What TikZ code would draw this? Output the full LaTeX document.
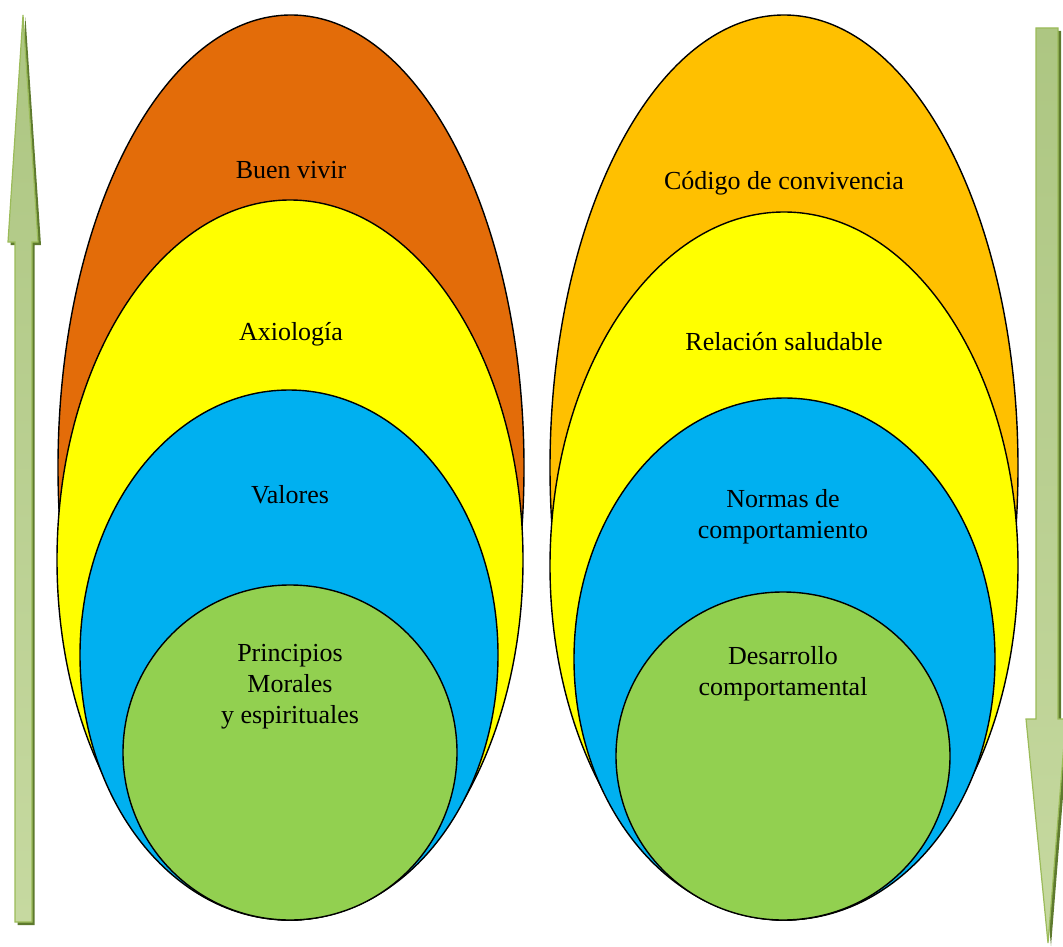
\documentclass[tikz,border=0pt]{standalone}
\usepackage{fontspec}
\setmainfont{Liberation Serif}
\usetikzlibrary{shapes.geometric}

\definecolor{Naranja}{HTML}{E36C09}
\definecolor{Oro}{HTML}{FFC000}
\definecolor{Amarillo}{HTML}{FFFF00}
\definecolor{Celeste}{HTML}{00B0F0}
\definecolor{Verde}{HTML}{92D050}
\definecolor{FlechaBorde}{HTML}{9BBB59}
\definecolor{FlechaSombra}{HTML}{5E7A2E}
\definecolor{FlechaA}{HTML}{ADC682}
\definecolor{FlechaB}{HTML}{C6D9A0}

\tikzset{
  capa/.style={ellipse, draw=black, line width=1.4pt, inner sep=0pt},
  texto/.style={font=\fontsize{26}{31}\selectfont, align=center, inner sep=0pt},
}

\begin{document}
\begin{tikzpicture}[x=1pt,y=-1pt]
\useasboundingbox (0,0) rectangle (1063,947);

%% Flecha izquierda (hacia arriba)
\fill[FlechaSombra] (25.5,17.5) -- (41,245) -- (34.5,245) -- (34.5,925)
	-- (17.5,925) -- (17.5,245) -- (10.5,245) -- cycle;
\path[draw=FlechaBorde, line width=1.2pt, top color=FlechaA, bottom color=FlechaB]
	(23,15) -- (38,242) -- (32,242) -- (32,922)
	-- (15,922) -- (15,242) -- (8,242) -- cycle;

%% Flecha derecha (hacia abajo)
\fill[FlechaSombra] (1039,31) -- (1061,31) -- (1061,722) -- (1069,722)
	-- (1051,946) -- (1029,722) -- (1039,722) -- cycle;
\path[draw=FlechaBorde, line width=1.2pt, top color=FlechaA, bottom color=FlechaB]
	(1036,28) -- (1058,28) -- (1058,719) -- (1066,719)
	-- (1048,943) -- (1026,719) -- (1036,719) -- cycle;

%% Grupo izquierdo
\node[capa, fill=Naranja, minimum width=466, minimum height=905] (buen) at (291,467.5) {};
\node[capa, fill=Amarillo, minimum width=466, minimum height=720] (axio) at (290,560) {};
\node[capa, fill=Celeste, minimum width=418, minimum height=530] (valores) at (289,655) {};
\node[capa, fill=Verde, minimum width=334, minimum height=335] (principios) at (290,752.5) {};

\node[texto] (tbuen) at (291,170) {Buen vivir};
\node[texto] (taxio) at (291,334) {Axiología};
\node[texto] (tvalores) at (290,495) {Valores};
\node[texto] (tprincipios) at (290,687) {Principios\\ Morales\\y espirituales};

%% Grupo derecho
\node[capa, fill=Oro, minimum width=468, minimum height=905] (codigo) at (784,467.5) {};
\node[capa, fill=Amarillo, minimum width=468, minimum height=708] (relacion) at (784,566) {};
\node[capa, fill=Celeste, minimum width=421, minimum height=522] (normas) at (784.5,659) {};
\node[capa, fill=Verde, minimum width=334, minimum height=328] (desarrollo) at (783,756) {};

\node[texto] (tcodigo) at (784,183) {Código de convivencia};
\node[texto] (trelacion) at (784,342) {Relación saludable};
\node[texto] (tnormas) at (783,517) {Normas de\\comportamiento};
\node[texto] (tdesarrollo) at (783,674) {Desarrollo\\comportamental};
\end{tikzpicture}
\end{document}
